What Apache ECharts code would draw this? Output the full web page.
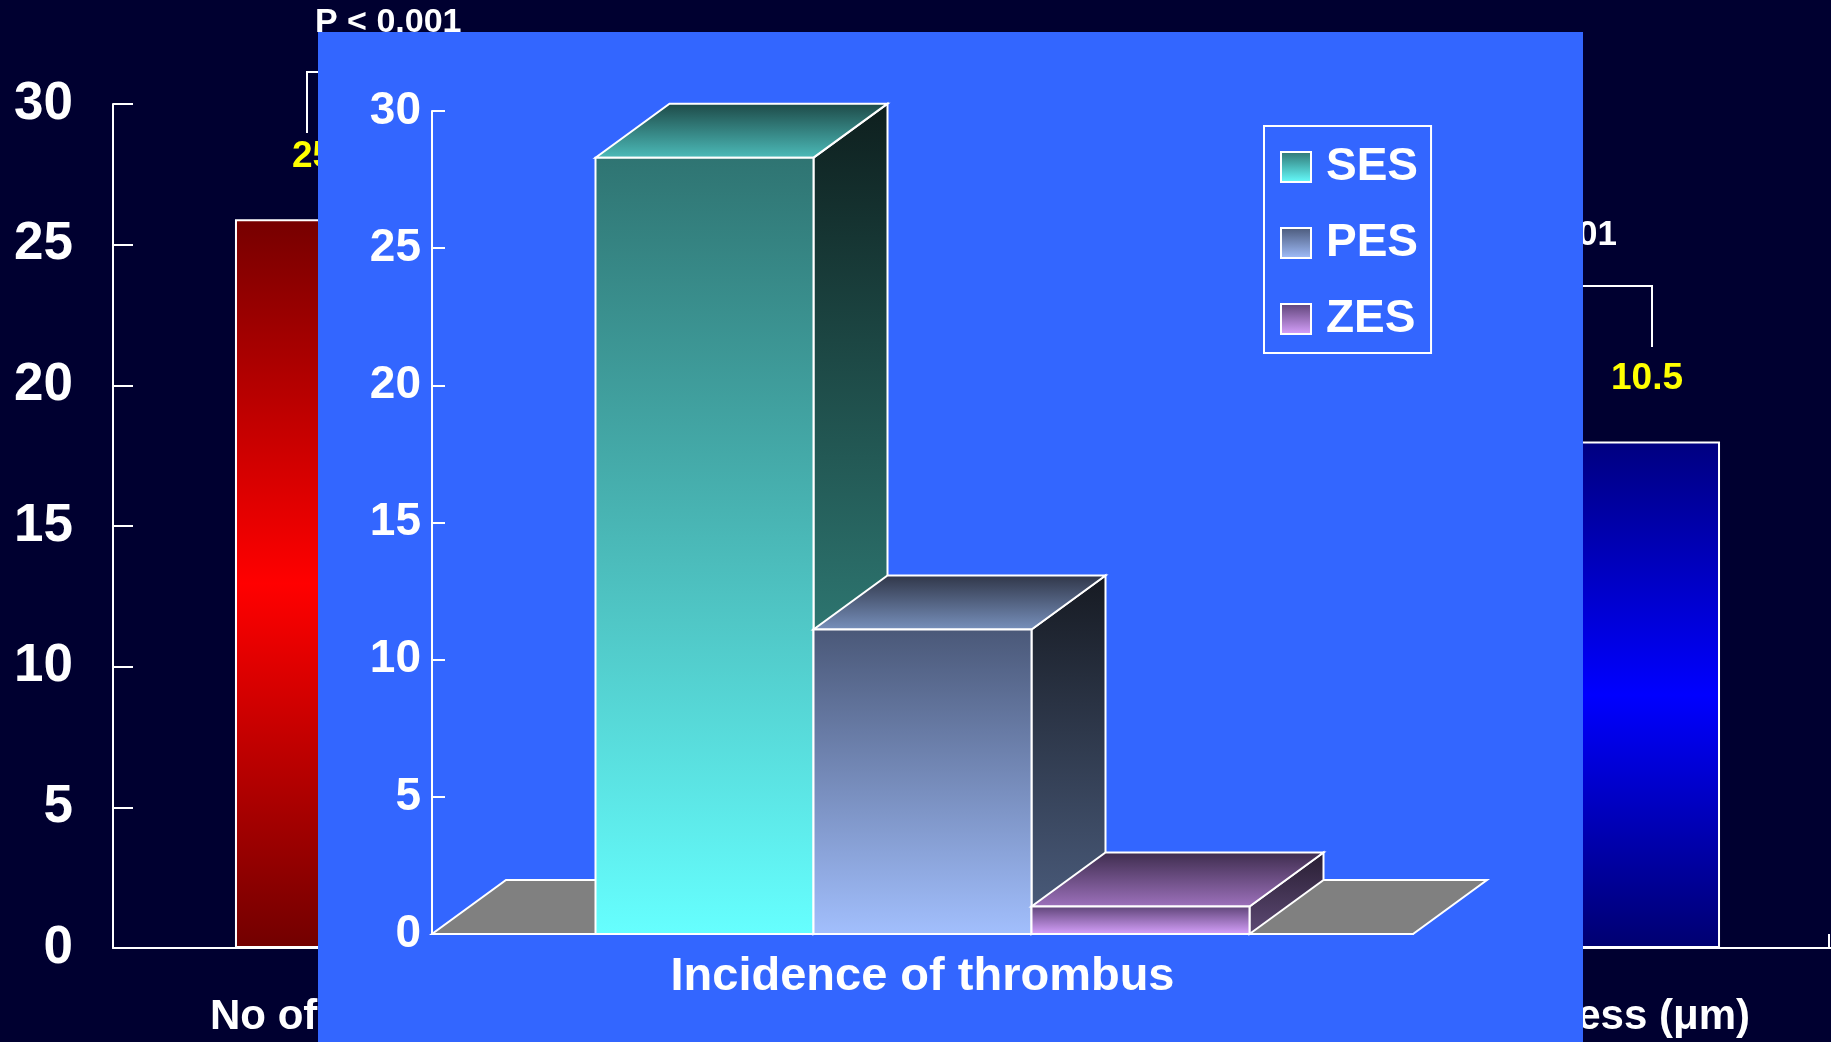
<!DOCTYPE html>
<html>
<head>
<meta charset="utf-8">
<title></title>
<script src="https://cdn.jsdelivr.net/npm/echarts@6/dist/echarts.min.js"></script>
<style>
  html, body { margin: 0; padding: 0; background: #000030; overflow: hidden; }
  #back { position: absolute; left: 0; top: 0; width: 1831px; height: 1042px; }
  #panel { position: absolute; left: 318px; top: 32px; width: 1265px; height: 1010px; background: #3366ff; }
</style>
</head>
<body>
<div id="back"></div>
<div id="panel"></div>
<script>
// slide behind the panel
var backCats = ['No of uncovered struts', 'Neointimal thickness (\u03bcm)'];
var backRed = [25.9, '-'];
var backBlue = ['-', 18.0];
var backLabels = ['25.9', '10.5'];
var pText = 'P < 0.001';

// 3d chart on the blue panel
var stents = ['SES', 'PES', 'ZES'];
var thrombus = [28.3, 11.1, 1.0];
var frontCats = ['Incidence of thrombus'];

var FONT = 'Liberation Sans';
var DX = 74, DY = -54; // depth of the 3d boxes

function vgrad(a, b) {
  return new echarts.graphic.LinearGradient(0, 0, 0, 1, [
    { offset: 0, color: a }, { offset: 1, color: b }
  ]);
}
function vgrad3(a, b, c) {
  return new echarts.graphic.LinearGradient(0, 0, 0, 1, [
    { offset: 0, color: a }, { offset: 0.5, color: b }, { offset: 1, color: c }
  ]);
}

var backChart = echarts.init(document.getElementById('back'));
backChart.setOption({
  animation: false,
  backgroundColor: '#000030',
  textStyle: { fontFamily: FONT },
  grid: { left: 113, right: -11, top: 104, bottom: 94, outerBoundsMode: 'none' },
  xAxis: {
    type: 'category',
    data: backCats,
    axisLine: { lineStyle: { color: '#fff', width: 2 } },
    axisTick: { inside: true, length: 14, lineStyle: { color: '#fff', width: 2 } },
    axisLabel: { show: false }
  },
  yAxis: {
    type: 'value', min: 0, max: 30, interval: 5,
    splitLine: { show: false },
    axisLine: { show: true, lineStyle: { color: '#fff', width: 2 } },
    axisTick: { show: true, inside: true, length: 20, lineStyle: { color: '#fff', width: 2 } },
    axisLabel: { color: '#fff', fontSize: 53, fontWeight: 'bold', fontFamily: FONT, margin: 40 }
  },
  series: [
    {
      type: 'bar', data: backRed, barWidth: 190, barGap: '126.6%',
      itemStyle: { color: vgrad3('#760000', '#ff0000', '#720000'), borderColor: '#fff', borderWidth: 2 },
      label: {
        show: true, position: 'top', distance: 44, offset: [-2, 0],
        formatter: function (p) { return backLabels[p.dataIndex]; },
        color: '#ffff00', fontSize: 37, fontWeight: 'bold', fontFamily: FONT
      }
    },
    {
      type: 'bar', data: backBlue, barWidth: 190, barGap: '126.6%',
      itemStyle: { color: vgrad3('#000080', '#0000ff', '#000070'), borderColor: '#fff', borderWidth: 2 },
      label: {
        show: true, position: 'top', distance: 44, offset: [22, 0],
        formatter: function (p) { return backLabels[p.dataIndex]; },
        color: '#ffff00', fontSize: 37, fontWeight: 'bold', fontFamily: FONT
      }
    }
  ],
  graphic: [
    { type: 'polyline', shape: { points: [[700, 72], [307, 72], [307, 133]] }, style: { stroke: '#fff', lineWidth: 2, fill: null } },
    { type: 'polyline', shape: { points: [[1200, 286], [1652, 286], [1652, 347]] }, style: { stroke: '#fff', lineWidth: 2, fill: null } },
    { type: 'text', left: 315, top: 6, style: { text: pText, fill: '#fff', font: 'bold 34px ' + FONT, textShadowColor: 'rgba(0,0,0,0.6)', textShadowOffsetX: 2, textShadowOffsetY: 2 } },
    { type: 'text', right: 1831 - 1617, top: 218, style: { text: pText, fill: '#fff', font: 'bold 35px ' + FONT, textShadowColor: 'rgba(0,0,0,0.6)', textShadowOffsetX: 2, textShadowOffsetY: 2 } },
    { type: 'text', left: 210, top: 996, style: { text: backCats[0], fill: '#fff', font: 'bold 42px ' + FONT } },
    { type: 'text', right: 1831 - 1750, top: 996, style: { text: backCats[1], fill: '#fff', font: 'bold 42px ' + FONT } },
    { type: 'line', shape: { x1: 1829, y1: 948, x2: 1829, y2: 934 }, style: { stroke: '#fff', lineWidth: 2 } }
  ]
});

// faces: front, top (back -> front), side
var faces = [
  { front: ['#2f7472', '#66ffff'], top: ['#1d4846', '#4cbcba'], side: ['#0e1f1e', '#3fa79f'] },
  { front: ['#4a5878', '#a2bffd'], top: ['#2f3547', '#7891bd'], side: ['#161a22', '#4d5f80'] },
  { front: ['#5c4275', '#d9a3ff'], top: ['#3d2c4d', '#9e72bd'], side: ['#271d31', '#5e4a75'] }
];

function renderFloor(params, api) {
  var c = api.coord([api.value(0), 0]);
  var band = api.size([1, 0])[0];
  var xa = c[0] - band / 2, xb = c[0] + band / 2, y = c[1];
  return {
    type: 'polygon',
    shape: { points: [[xa, y], [xb, y], [xb + DX, y + DY], [xa + DX, y + DY]] },
    style: { fill: '#808080', stroke: '#fff', lineWidth: 2 }
  };
}

function renderBar(params, api) {
  var k = params.seriesIndex - 1;
  var base = api.coord([api.value(0), 0]);
  var top = api.coord([api.value(0), api.value(1)]);
  var band = api.size([1, 0])[0];
  var w = band * 2 / 9;
  var x0 = base[0] + (k - 1.5) * w;
  var x1 = x0 + w;
  var y0 = base[1], y1 = top[1];
  var f = faces[k];
  return {
    type: 'group',
    children: [
      {
        type: 'polygon',
        shape: { points: [[x1, y0], [x1 + DX, y0 + DY], [x1 + DX, y1 + DY], [x1, y1]] },
        style: { fill: vgrad(f.side[0], f.side[1]), stroke: '#fff', lineWidth: 2 }
      },
      {
        type: 'polygon',
        shape: { points: [[x0, y1], [x1, y1], [x1 + DX, y1 + DY], [x0 + DX, y1 + DY]] },
        style: { fill: vgrad(f.top[0], f.top[1]), stroke: '#fff', lineWidth: 2 }
      },
      {
        type: 'rect',
        shape: { x: x0, y: y1, width: w, height: y0 - y1 },
        style: { fill: vgrad(f.front[0], f.front[1]), stroke: '#fff', lineWidth: 2 }
      }
    ]
  };
}

var series = [{
  type: 'custom', name: 'floor', renderItem: renderFloor, data: [[0, 0]],
  encode: { x: 0, y: 1 }, silent: true, z: 1
}];
for (var i = 0; i < stents.length; i++) {
  series.push({
    type: 'custom',
    name: stents[i],
    renderItem: renderBar,
    data: [[0, thrombus[i]]],
    encode: { x: 0, y: 1 },
    itemStyle: { color: vgrad(faces[i].front[0], faces[i].front[1]) },
    z: 2 + i
  });
}

var frontChart = echarts.init(document.getElementById('panel'));
frontChart.setOption({
  animation: false,
  textStyle: { fontFamily: FONT },
  grid: { left: 114, right: 170, top: 79, bottom: 108 },
  legend: {
    data: stents,
    orient: 'vertical',
    left: 946, top: 94,
    borderColor: '#fff', borderWidth: 2,
    padding: [18, 13, 11, 16],
    itemGap: 30, itemWidth: 30, itemHeight: 30,
    icon: 'rect',
    itemStyle: { borderColor: '#fff', borderWidth: 2 },
    textStyle: { color: '#fff', fontSize: 46, fontWeight: 'bold', fontFamily: FONT, lineHeight: 36, padding: [0, 0, 0, 10] }
  },
  xAxis: {
    type: 'category',
    data: frontCats,
    z: 10,
    axisLine: { lineStyle: { color: '#fff', width: 2 } },
    axisTick: { inside: true, length: 13, lineStyle: { color: '#fff', width: 2 } },
    axisLabel: { color: '#fff', fontSize: 47, fontWeight: 'bold', fontFamily: FONT, margin: 20 }
  },
  yAxis: {
    type: 'value', min: 0, max: 30, interval: 5,
    splitLine: { show: false },
    axisLine: { show: true, lineStyle: { color: '#fff', width: 2 } },
    axisTick: { show: true, inside: true, length: 13, lineStyle: { color: '#fff', width: 2 } },
    axisLabel: { color: '#fff', fontSize: 46, fontWeight: 'bold', fontFamily: FONT, margin: 11 }
  },
  series: series
});
</script>
</body>
</html>
